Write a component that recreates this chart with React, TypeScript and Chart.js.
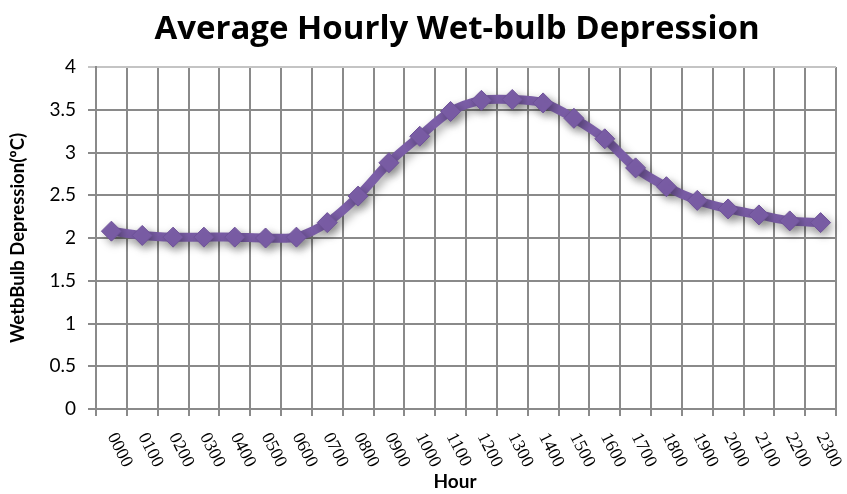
import React, { useEffect, useRef } from "react";
import { Chart, registerables } from "chart.js";

Chart.register(...registerables);

const TITLE = "Average Hourly Wet-bulb Depression";
const X_TITLE = "Hour";
const Y_TITLE = "WetbBulb Depression(ºC)";
const hours = [
  "0000", "0100", "0200", "0300", "0400", "0500", "0600", "0700",
  "0800", "0900", "1000", "1100", "1200", "1300", "1400", "1500",
  "1600", "1700", "1800", "1900", "2000", "2100", "2200", "2300",
];
const depression = [
  2.08, 2.03, 2.01, 2.01, 2.01, 2.0, 2.01, 2.18,
  2.49, 2.88, 3.19, 3.48, 3.61, 3.62, 3.58, 3.4,
  3.16, 2.82, 2.6, 2.44, 2.34, 2.27, 2.2, 2.18,
];
const yTicks = [0, 0.5, 1, 1.5, 2, 2.5, 3, 3.5, 4];

const PURPLE = "#7b5ea7";
const GRID = "#8a8a8a";
const SANS = "Lato";
const TITLE_FONT = "'Open Sans'";

export default function App() {
  const ref = useRef<HTMLCanvasElement | null>(null);

  useEffect(() => {
    if (!ref.current) return;
    const shadowPlugin = {
      id: "shadow",
      beforeDatasetsDraw(chart: any) {
        const ctx = chart.ctx;
        ctx.save();
        ctx.shadowColor = "rgba(0,0,0,0.35)";
        ctx.shadowBlur = 10;
        ctx.shadowOffsetX = 3;
        ctx.shadowOffsetY = 4;
      },
      afterDatasetsDraw(chart: any) {
        chart.ctx.restore();
      },
    };
    const textPlugin = {
      id: "texts",
      afterDraw(chart: any) {
        const ctx = chart.ctx;
        const xs = chart.scales.x;
        const area = chart.chartArea;
        ctx.save();
        // title
        ctx.fillStyle = "#000";
        ctx.font = `bold 33px ${TITLE_FONT}`;
        ctx.textAlign = "center";
        ctx.textBaseline = "alphabetic";
        ctx.fillText(TITLE, 457, 39);
        // x tick labels rotated clockwise
        ctx.font = "18px 'Liberation Serif'";
        ctx.textAlign = "left";
        ctx.textBaseline = "middle";
        hours.forEach((h, i) => {
          const x = xs.getPixelForValue(i);
          ctx.save();
          ctx.translate(x, area.bottom + 25);
          ctx.rotate((63 * Math.PI) / 180);
          ctx.fillText(h, 0, 0);
          ctx.restore();
        });
        // x title
        ctx.font = `bold 19px ${SANS}`;
        ctx.textAlign = "center";
        ctx.textBaseline = "alphabetic";
        ctx.fillText(X_TITLE, 455, 488);
        ctx.restore();
      },
    };

    const chart = new Chart(ref.current, {
      type: "line",
      data: {
        labels: hours,
        datasets: [
          {
            data: depression,
            borderColor: PURPLE,
            backgroundColor: PURPLE,
            borderWidth: 9,
            tension: 0.3,
            pointStyle: "rectRot",
            pointRadius: 10,
            pointBackgroundColor: PURPLE,
            pointBorderColor: "#6e5298",
            pointBorderWidth: 1,
          },
        ],
      },
      options: {
        animation: false,
        responsive: false,
        maintainAspectRatio: false,
        layout: { padding: { top: 67, right: 4, left: 0, bottom: 0 } },
        plugins: {
          legend: { display: false },
          title: { display: false },
          tooltip: { enabled: false },
        },
        scales: {
          x: {
            offset: true,
            afterFit: (s: any) => {
              s.height = 494 - 409;
            },
            grid: {
              offset: true,
              color: GRID,
              lineWidth: 2,
              tickLength: 7,
            },
            border: { color: GRID, width: 2 },
            ticks: { color: "rgba(0,0,0,0)", maxRotation: 0, autoSkip: false },
          },
          y: {
            min: 0,
            max: 4,
            afterFit: (s: any) => {
              s.width = 96;
            },
            afterBuildTicks: (s: any) => {
              s.ticks = yTicks.map((v) => ({ value: v }));
            },
            grid: {
              color: (c: any) => (c.index === yTicks.length - 1 ? "#c4c4c4" : GRID),
              lineWidth: 2,
              tickLength: 8,
            },
            border: { color: GRID, width: 2 },
            ticks: {
              color: "#000",
              padding: 12,
              font: { family: SANS, size: 19 },
              callback: (v: any) => String(v),
            },
            title: {
              display: true,
              text: Y_TITLE,
              color: "#000",
              font: { family: SANS, size: 18.5, weight: "bold" },
              padding: { top: 7, bottom: 0 },
            },
          },
        },
      },
      plugins: [shadowPlugin, textPlugin],
    });
    return () => chart.destroy();
  }, []);

  return (
    <div style={{ position: "fixed", left: 0, top: 0, width: 847, height: 494, background: "#fff" }}>
      <canvas ref={ref} width={847} height={494} style={{ width: 847, height: 494 }} />
    </div>
  );
}
